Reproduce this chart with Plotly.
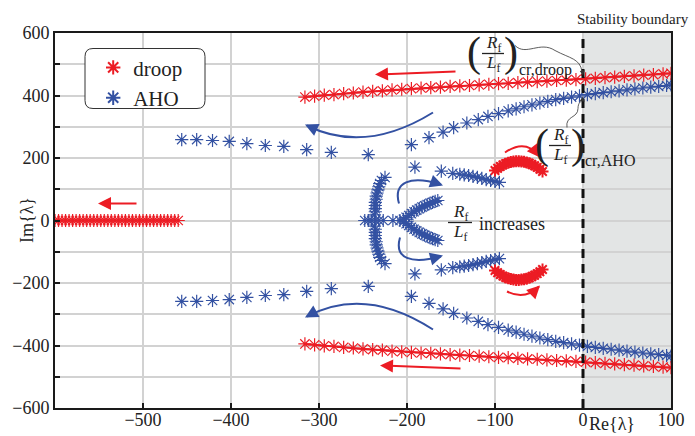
import plotly.graph_objects as go

RED = "#ec1c24"
BLUE = "#3351a2"
FONT = "Liberation Serif, DejaVu Serif, Times New Roman, serif"

# ---------------- data ----------------
# droop: real-axis branch
droop_real_x = [-600, -596, -592, -588, -584, -580, -576, -572, -568, -564, -560, -556,
                -552, -548, -544, -540, -536, -532, -528, -524, -520, -516, -512, -508,
                -504, -500, -496, -492, -488, -484, -480, -476, -472, -468, -464, -460]
droop_real_y = [0] * len(droop_real_x)

# droop: upper complex branch (lower one is its conjugate)
droop_up_x = [-316, -305, -294, -283, -272, -261, -250, -239, -228, -217, -206, -195, -184,
              -173, -162, -151, -140, -129, -118, -107, -96, -85, -74, -63, -52, -41, -30,
              -19, -8, 3, 14, 25, 36, 47, 58, 69, 80, 91, 100]
droop_up_y = [395, 398, 401, 403, 406, 408, 411, 413, 415, 418, 420, 422, 424,
              425, 427, 429, 431, 432, 434, 436, 438, 439, 441, 443, 444, 446, 448,
              449, 451, 453, 455, 457, 459, 461, 463, 465, 467, 469, 471]

# droop: small arc near Re = -75 (upper; lower is conjugate)
droop_arc_x = [-100, -97, -94, -91, -88, -85, -82, -79, -76, -73, -70, -67, -64, -61,
               -58, -55, -52, -49, -46]
droop_arc_y = [160, 167, 173, 178, 182, 185, 187, 189, 190, 190, 189, 188, 186, 183,
               179, 175, 170, 164, 157]

# AHO: outer branch (upper; lower is conjugate)
aho_out_x = [-456, -439, -421, -402, -382, -361, -340, -314, -286, -244, -195, -175, -159,
             -147, -132, -119, -108, -96, -85, -76, -67, -58, -49, -40, -31, -22, -13, -4,
             5, 14, 23, 32, 41, 50, 59, 68, 77, 86, 95, 100]
aho_out_y = [259, 259, 256, 253, 246, 240, 237, 227, 218, 211, 243, 265, 283,
             297, 312, 323, 333, 342, 351, 357, 364, 370, 376, 381, 387, 391, 395, 399,
             403, 406, 409, 412, 415, 418, 421, 424, 427, 429, 432, 434]

# AHO: inner branch (upper)
aho_in_x = [-191, -161, -148, -140, -135, -130, -125, -120, -115, -110, -105, -100, -95]
aho_in_y = [171, 158, 151, 148, 146, 144, 141, 138, 135, 131, 128, 125, 122]

# AHO: near-vertical cluster (upper)
aho_vert_x = [-225, -229, -231, -232, -233, -234, -235, -235, -236, -236, -236, -236, -237]
aho_vert_y = [138, 128, 118, 108, 98, 88, 78, 68, 58, 48, 38, 28, 18]

# AHO: real-axis points
aho_real_x = [-248, -244, -240, -236, -232, -227, -216, -208]
aho_real_y = [0, 0, 0, 0, 0, 0, 0, 0]

# AHO: chevron arm (upper)
aho_v_x = [-204, -201, -198, -195, -192, -189, -186, -183, -180, -177, -174, -171, -168, -165]
aho_v_y = [4, 10, 16, 22, 28, 33, 38, 43, 47, 51, 55, 58, 61, 64]


def conj(v):
    return [-a for a in v]


# ---------------- figure ----------------
LW = 1.2


def mk(color, size=11, lw=LW):
    return dict(symbol="asterisk-open", size=size, color=color, line=dict(width=lw, color=color))


fig = go.Figure()

fig.add_trace(go.Scatter(x=droop_real_x, y=droop_real_y, mode="markers", name="droop",
                         marker=mk(RED)))
fig.add_trace(go.Scatter(x=aho_out_x, y=aho_out_y, mode="markers", name="AHO",
                         marker=mk(BLUE)))
fig.add_trace(go.Scatter(x=aho_out_x, y=conj(aho_out_y), mode="markers", showlegend=False,
                         marker=mk(BLUE)))
for xs, ys in [(aho_in_x, aho_in_y), (aho_vert_x, aho_vert_y), (aho_v_x, aho_v_y)]:
    for sgn in (1, -1):
        fig.add_trace(go.Scatter(x=xs, y=[sgn * v for v in ys], mode="markers", showlegend=False,
                                 marker=mk(BLUE)))
fig.add_trace(go.Scatter(x=aho_real_x, y=aho_real_y, mode="markers", showlegend=False,
                         marker=mk(BLUE)))

fig.add_trace(go.Scatter(x=droop_real_x, y=droop_real_y, mode="lines", showlegend=False,
                         line=dict(color=RED, width=2)))
for sgn in (1, -1):
    fig.add_trace(go.Scatter(x=droop_up_x, y=[sgn * v for v in droop_up_y], mode="lines+markers",
                             showlegend=False, line=dict(color=RED, width=2),
                             marker=mk(RED)))
    fig.add_trace(go.Scatter(x=droop_arc_x, y=[sgn * v for v in droop_arc_y], mode="lines+markers",
                             showlegend=False, line=dict(color=RED, width=8),
                             marker=mk(RED, size=10, lw=2)))


# ---------------- decorations ----------------
def X(p):
    return (p - 583) / 0.88


def Y(p):
    return (220 - p) / 0.3125


def pt(a, b):
    return f"{X(a):.2f},{Y(b):.2f}"


shapes = []
annos = []

# unstable region & boundary
shapes.append(dict(type="rect", xref="x", yref="y", x0=0, x1=100, y0=-600, y1=600,
                   fillcolor="#e3e5e5", line=dict(width=0), layer="below"))
shapes.append(dict(type="line", xref="x", yref="y", x0=0, x1=0, y0=-600, y1=600,
                   line=dict(color="#111", width=3, dash="9px,6px"), layer="above"))

# rounded legend box
r = 8
x0, x1, y0, y1 = 85, 205, 48, 108
path = (f"M{pt(x0 + r, y0)} L{pt(x1 - r, y0)} Q{pt(x1, y0)} {pt(x1, y0 + r)} "
        f"L{pt(x1, y1 - r)} Q{pt(x1, y1)} {pt(x1 - r, y1)} L{pt(x0 + r, y1)} "
        f"Q{pt(x0, y1)} {pt(x0, y1 - r)} L{pt(x0, y0 + r)} Q{pt(x0, y0)} {pt(x0 + r, y0)} Z")
shapes.append(dict(type="path", xref="x", yref="y", path=path, fillcolor="white",
                   line=dict(color="#333", width=1), layer="above"))


def curve(path, color, width=2):
    shapes.append(dict(type="path", xref="x", yref="y", path=path,
                       line=dict(color=color, width=width), layer="above"))


def head(tx, ty, ax, ay, color, size=1.3, width=2):
    annos.append(dict(x=X(tx), y=Y(ty), xref="x", yref="y", ax=ax, ay=ay, text="",
                      showarrow=True, arrowhead=2, arrowsize=size, arrowwidth=width,
                      arrowcolor=color, standoff=0))


def straight(t0, t1, color):
    annos.append(dict(x=X(t1[0]), y=Y(t1[1]), ax=X(t0[0]), ay=Y(t0[1]), xref="x", yref="y",
                      axref="x", ayref="y", text="", showarrow=True, arrowhead=2,
                      arrowsize=1.3, arrowwidth=2, arrowcolor=color, standoff=0))


# red straight arrows
straight((138, 203), (98, 203), RED)
straight((457, 71), (375, 74), RED)
straight((462, 368), (380, 365), RED)

# blue curved arrows
curve(f"M{pt(433, 112)} Q{pt(365, 154)} {pt(307, 125)}", BLUE)
head(305, 124, 11, 5, BLUE)
curve(f"M{pt(433, 329)} Q{pt(365, 285)} {pt(307, 316)}", BLUE)
head(305, 317, 11, -6, BLUE)
curve(f"M{pt(399, 203)} C{pt(393, 182)} {pt(410, 174)} {pt(441, 184)}", BLUE)
head(443, 185, -11, -4, BLUE)
curve(f"M{pt(400, 237)} C{pt(394, 258)} {pt(411, 264)} {pt(441, 256)}", BLUE)
head(443, 255, -11, 3, BLUE)

# red small curved arrows
curve(f"M{pt(505, 152)} Q{pt(525, 138)} {pt(539, 155)}", RED)
head(540, 157, -7, -9, RED)
curve(f"M{pt(507, 291)} Q{pt(525, 300)} {pt(539, 286)}", RED)
head(540, 285, -8, 8, RED)

# wavy connectors to the critical points
curve(f"M{pt(515, 45)} C{pt(526, 56)} {pt(540, 40)} {pt(555, 50)} "
      f"C{pt(570, 58)} {pt(580, 58)} {pt(582, 71)}", "#333", 0.8)
head(583, 75, -1, -7, "#333", size=1.0, width=1)
curve(f"M{pt(567, 127)} C{pt(565, 115)} {pt(578, 118)} {pt(578, 108)} "
      f"C{pt(578, 102)} {pt(581, 101)} {pt(583, 99)}", "#333", 0.8)
head(583, 96, -1, 6, "#333", size=1.0, width=1)


def text(px_, py_, s, size=16, xanchor="center", paper=False, **kw):
    if paper:
        pos = dict(x=(px_ - 55) / 616, y=(408 - py_) / 375, xref="paper", yref="paper")
    else:
        pos = dict(x=X(px_), y=Y(py_), xref="x", yref="y")
    annos.append(dict(pos, text=s, showarrow=False, xanchor=xanchor, yanchor="middle",
                      font=dict(family=FONT, size=size, color="#222"), **kw))


RF = "<i>R</i><sub>f</sub>"
LF = "<i>L</i><sub>f</sub>"


def frac(cx, cy, half=11, size=17, gap=10):
    text(cx, cy - gap, RF, size=size)
    text(cx, cy + gap, LF, size=size)
    shapes.append(dict(type="line", xref="x", yref="y", x0=X(cx - half), x1=X(cx + half),
                       y0=Y(cy), y1=Y(cy), line=dict(color="#222", width=1.3), layer="above"))


# (Rf/Lf)_cr,droop
text(474, 52, "(", size=42)
frac(493, 53)
text(511, 52, ")", size=42)
text(517, 69, "cr,droop", size=16, xanchor="left")

# (Rf/Lf)_cr,AHO
text(542, 144, "(", size=42)
frac(560, 145)
text(578, 144, ")", size=42)
text(583, 160, "cr,AHO", size=16, xanchor="left")

# Rf/Lf increases
frac(460, 222, half=12)
text(477, 223, "increases", size=18, xanchor="left")

# titles
text(633, 19, "Stability boundary", size=15, paper=True)
text(612, 424, "Re{λ}", size=18, paper=True)
text(27, 220, "Im{λ}", size=18, paper=True, textangle=-90)

fig.update_layout(
    width=695, height=436,
    margin=dict(l=55, r=24, t=33, b=28, autoexpand=False),
    paper_bgcolor="white", plot_bgcolor="white",
    font=dict(family=FONT, size=18, color="#222"),
    shapes=shapes, annotations=annos,
    showlegend=True,
    legend=dict(x=0.062, y=0.962, xanchor="left", yanchor="top", bgcolor="rgba(0,0,0,0)",
                borderwidth=0, font=dict(family=FONT, size=21, color="#222"),
                itemsizing="constant", tracegroupgap=0),
)
fig.update_xaxes(range=[-600, 100], tickvals=[-500, -400, -300, -200, -100, 0, 100],
                 showgrid=True, gridcolor="#d2d2d2", gridwidth=1.5, zeroline=False,
                 showline=True, linecolor="#1a1a1a", linewidth=2, mirror=True,
                 ticks="inside", ticklen=5, tickwidth=2, tickcolor="#1a1a1a",
                 ticklabelstandoff=-6, automargin=False,
                 tickfont=dict(family=FONT, size=18, color="#222"))
fig.update_yaxes(range=[-600, 600], tickvals=[-600, -400, -200, 0, 200, 400, 600],
                 showgrid=True, gridcolor="#d2d2d2", gridwidth=1.5, zeroline=False,
                 showline=True, linecolor="#1a1a1a", linewidth=2, mirror=True,
                 ticks="inside", ticklen=5, tickwidth=2, tickcolor="#1a1a1a",
                 automargin=False,
                 minor=dict(dtick=100, showgrid=True, gridcolor="#d2d2d2", gridwidth=1.5,
                            ticks="inside", ticklen=5, tickwidth=2, tickcolor="#1a1a1a"),
                 tickfont=dict(family=FONT, size=18, color="#222"))

fig.write_html("out.html")
